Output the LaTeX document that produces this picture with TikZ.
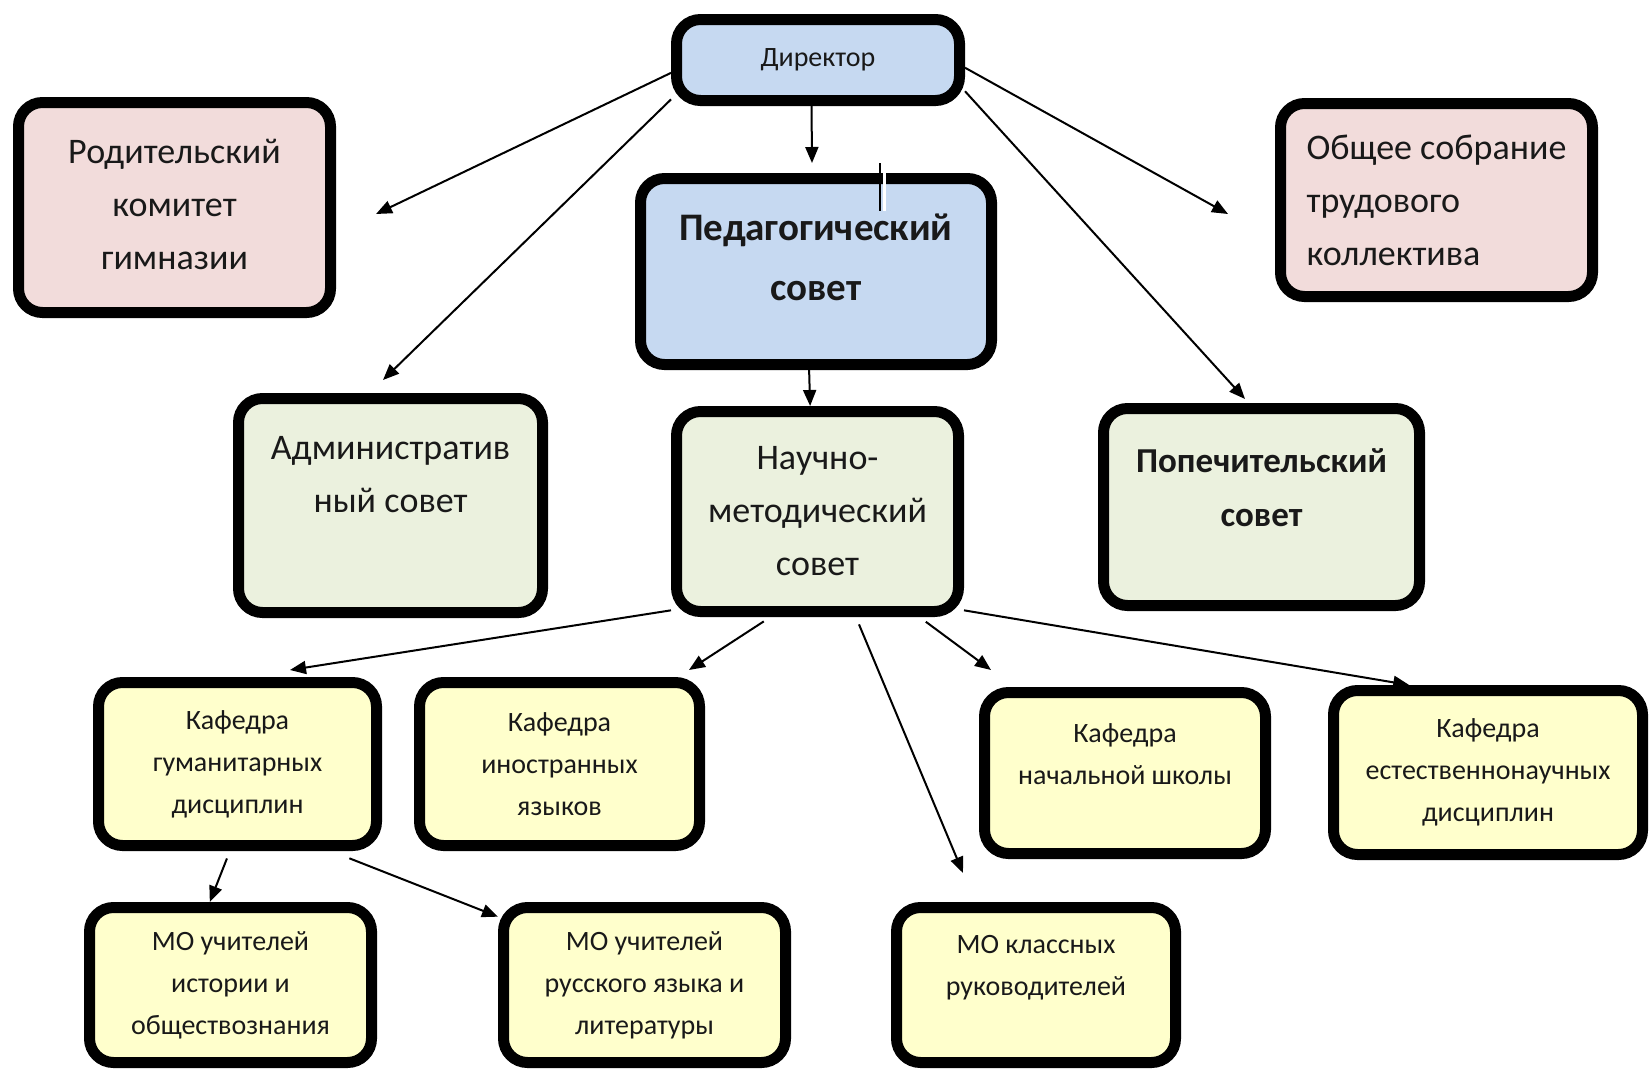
\documentclass[tikz,border=0pt]{standalone}
\usepackage{fontspec}
\setmainfont{Carlito}
\usetikzlibrary{arrows.meta}
\definecolor{blueblock}{RGB}{198,217,241}
\definecolor{pinkblock}{RGB}{242,220,219}
\definecolor{greenblock}{RGB}{235,241,222}
\definecolor{yellowblock}{RGB}{255,255,204}

\begin{document}
\begin{tikzpicture}[x=0.5pt, y=-0.5pt,
    block/.style={draw, line width=5.5pt, rounded corners=12pt, align=center, text=black!90, inner sep=0pt},
    lift/.style={text depth=#1},
    big/.style={font=\fontsize{18}{26.5}\selectfont},
    small/.style={font=\fontsize{14}{21}\selectfont},
    arr/.style={-{Triangle[length=8pt,width=6.5pt]}, line width=1pt}]
    \useasboundingbox (0,0) rectangle (1650,1071);

    \node[block, fill=blueblock, minimum width=141.5pt, minimum height=40.5pt, font=\fontsize{14}{16}\selectfont] (dir) at (818,60) {Директор};
    \node[block, fill=blueblock, minimum width=175.5pt, minimum height=93pt, font=\bfseries\fontsize{19.5}{30}\selectfont, lift=14pt] (ped) at (816,271.5) {Педагогический\\совет};
    \node[block, fill=pinkblock, minimum width=156pt, minimum height=105pt, big, lift=3pt] (rod) at (174.5,207.5) {Родительский\\комитет\\гимназии};
    \node[block, fill=pinkblock, minimum width=156pt, minimum height=96.5pt, big, align=left] (obsh) at (1436.5,200) {Общее собрание\\трудового\\коллектива};
    \node[block, fill=greenblock, minimum width=152pt, minimum height=107pt, big, lift=31pt] (adm) at (390.5,505.5) {Административ\\ный совет};
    \node[block, fill=greenblock, minimum width=141pt, minimum height=100pt, big] (nauch) at (817.5,511.5) {Научно-\\методический\\совет};
    \node[block, fill=greenblock, minimum width=158pt, minimum height=98.5pt, font=\bfseries\fontsize{17.5}{27}\selectfont, lift=19pt] (popech) at (1261.5,507) {Попечительский\\совет};

    \node[block, fill=yellowblock, minimum width=139pt, minimum height=81.5pt, small] (kgum) at (237.5,764) {Кафедра\\гуманитарных\\дисциплин};
    \node[block, fill=yellowblock, minimum width=140pt, minimum height=81.5pt, small] (kin) at (559.5,764) {Кафедра\\иностранных\\языков};
    \node[block, fill=yellowblock, minimum width=140.5pt, minimum height=80.5pt, small, lift=19pt] (knach) at (1125,773) {Кафедра\\начальной школы};
    \node[block, fill=yellowblock, minimum width=154.5pt, minimum height=82pt, small] (kest) at (1488,772.5) {Кафедра\\естественнонаучных\\дисциплин};
    \node[block, fill=yellowblock, minimum width=141pt, minimum height=77.5pt, small] (moist) at (230.5,985) {МО учителей\\истории и\\обществознания};
    \node[block, fill=yellowblock, minimum width=141pt, minimum height=77.5pt, small] (morus) at (644.5,985) {МО учителей\\русского языка и\\литературы};
    \node[block, fill=yellowblock, minimum width=139.5pt, minimum height=77.5pt, small, lift=20pt] (mokl) at (1036,985) {МО классных\\руководителей};

    \coordinate (t1) at (376,214);
    \coordinate (t2) at (383,380);
    \coordinate (t3) at (812,163);
    \coordinate (t4) at (1228,214);
    \coordinate (t5) at (1245,399);
    \coordinate (t7) at (290,670);
    \coordinate (t8) at (689,670);
    \coordinate (t9) at (963,873);
    \coordinate (t10) at (991,670);

    \draw[arr] (dir.185) -- (t1);
    \draw[arr] (dir.195) -- (t2);
    \draw[arr] (dir.262) -- (t3);
    \draw[arr] (dir.357) -- (t4);
    \draw[arr] (dir.348) -- (t5);
    \draw[arr] (ped.266) -- (nauch.94);
    \draw[arr] (nauch.214) -- (t7);
    \draw[arr, shorten <=4pt] (nauch.246) -- (t8);
    \draw[arr, shorten <=4pt] (nauch.290) -- (t9);
    \draw[arr, shorten <=4pt] (nauch.314) -- (t10);
    \draw[arr] (nauch.326) -- (kest.132);
    \draw[arr, shorten <=4pt] (kgum.265) -- (moist.104);
    \draw[arr, shorten <=10pt] (kgum.317) -- (morus.155);

    \draw[white, line width=1.5pt] (884,163) -- (884,211);
    \draw[line width=1.2pt] (880,163) -- (880,211);
\end{tikzpicture}
\end{document}
